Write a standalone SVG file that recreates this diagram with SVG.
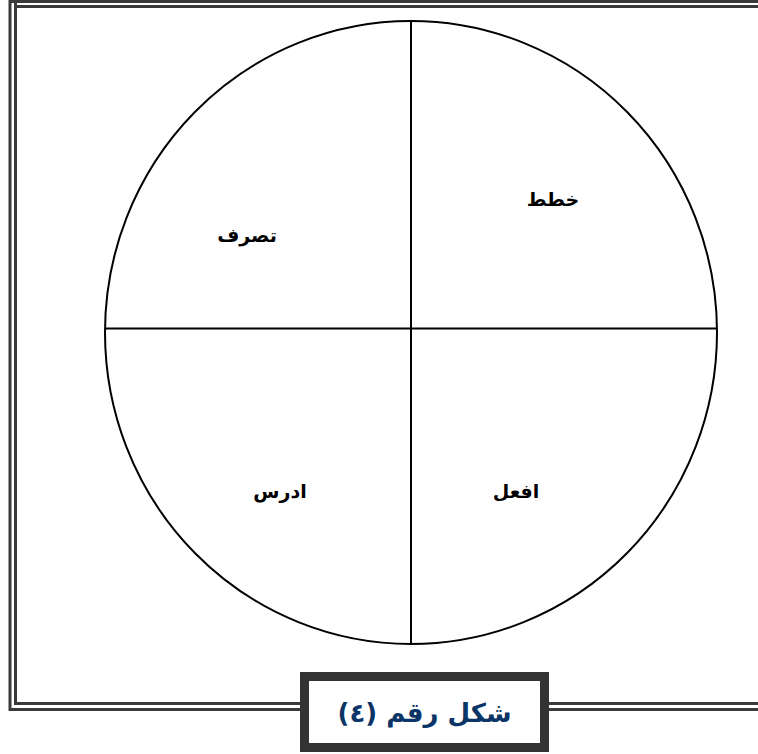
<svg xmlns="http://www.w3.org/2000/svg" width="758" height="754" viewBox="0 0 758 754">
<style>
.frame{fill:none;stroke:#3a3a3a;stroke-width:3}
.ln{fill:none;stroke:#000;stroke-width:2}
.lbl{font-family:"DejaVu Sans",sans-serif;font-weight:bold;font-size:19px;fill:#000;text-anchor:middle}
.cap{font-family:"DejaVu Sans",sans-serif;font-weight:bold;font-size:26px;fill:#0b3566;text-anchor:middle}
</style>
<rect width="758" height="754" fill="#fff"/>
<g id="frame">
<path class="frame" d="M10,-5 V709.5 H770 M770,1.5 H10"/>
<path class="frame" d="M15.5,-5 V703.5 H770 M770,6.5 H15.5"/>
</g>
<g id="circle">
<ellipse class="ln" cx="411" cy="332.5" rx="306" ry="311.5"/>
</g>
<g id="connectors">
<line class="ln" x1="411" y1="21" x2="411" y2="644"/>
<line class="ln" x1="105" y1="328.5" x2="717" y2="328.5"/>
</g>
<g id="n1"><text class="lbl" x="553" y="206">خطط</text></g>
<g id="n2"><text class="lbl" x="247" y="242">تصرف</text></g>
<g id="n3"><text class="lbl" x="280" y="498">ادرس</text></g>
<g id="n4"><text class="lbl" x="516" y="498">افعل</text></g>
<g id="caption">
<rect x="304.5" y="676.5" width="240" height="71" fill="#fff" stroke="#333" stroke-width="9"/>
<text class="cap" x="424.5" y="722">شكل رقم (٤)</text>
</g>
</svg>
